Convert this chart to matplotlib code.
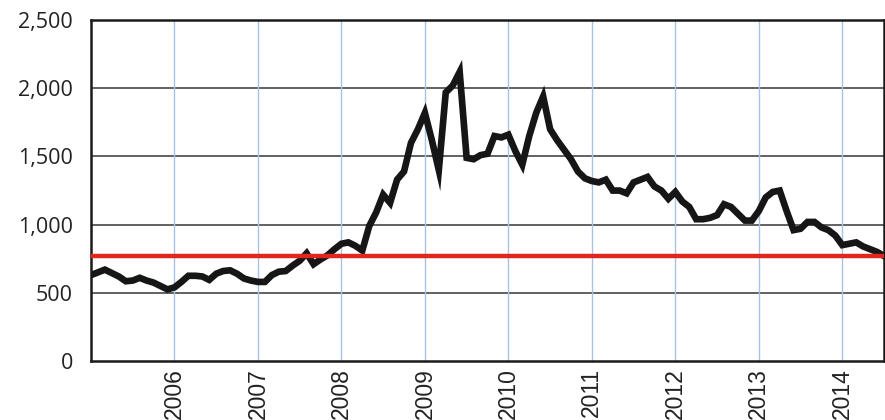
import numpy as np
import matplotlib
matplotlib.use('Agg')
import matplotlib.pyplot as plt
from matplotlib.ticker import StrMethodFormatter

# monthly values, Jan 2005 .. Jul 2014
values = [
    630, 650, 670, 645, 620, 585, 590, 610, 590, 575, 550, 525,       # 2005
    540, 580, 625, 625, 620, 595, 640, 660, 665, 640, 605, 590,       # 2006
    580, 580, 630, 655, 660, 700, 735, 790, 710, 745, 775, 820,       # 2007
    860, 870, 845, 810, 990, 1090, 1220, 1160, 1330, 1390, 1600, 1700, # 2008
    1820, 1620, 1400, 1970, 2020, 2120, 1490, 1480, 1510, 1520, 1650, 1640,  # 2009
    1660, 1540, 1440, 1650, 1820, 1940, 1700, 1620, 1550, 1480, 1390, 1340,  # 2010
    1320, 1310, 1330, 1250, 1250, 1230, 1310, 1330, 1350, 1280, 1250, 1190,  # 2011
    1240, 1170, 1130, 1040, 1040, 1050, 1070, 1150, 1130, 1080, 1030, 1030,  # 2012
    1100, 1200, 1240, 1250, 1100, 960, 970, 1020, 1020, 980, 960, 920,       # 2013
    850, 860, 870, 840, 820, 800, 770,                                       # 2014
]
start_year = 2005
threshold = 770
years = list(range(2006, 2015))
y_ticks = [0, 500, 1000, 1500, 2000, 2500]

t = start_year + np.arange(len(values)) / 12.0

fig = plt.figure(figsize=(8.85, 4.2), dpi=100)
ax = fig.add_axes([0.1028, 0.1405, 0.8961, 0.8115])

# grid
for yt in y_ticks[1:-1]:
    ax.axhline(yt, color='#555555', linewidth=1.3, zorder=1)
for yr in years:
    ax.axvline(yr, color='#a8c2e6', linewidth=1.0, zorder=1)

ax.plot(t, values, color='#161616', linewidth=4.8, solid_joinstyle='miter', zorder=3)
ax.axhline(threshold, color='#e3261c', linewidth=3.2, zorder=4)

ax.set_xlim(start_year, start_year + (len(values) - 1) / 12.0)
ax.set_ylim(0, 2500)
ax.set_xticks(years)
ax.set_xticklabels([str(y) for y in years], rotation=90, va='top', ha='center',
                   fontfamily='Liberation Sans', fontsize=16.5, color='#222222')
ax.set_yticks(y_ticks)
ax.yaxis.set_major_formatter(StrMethodFormatter('{x:,.0f}'))
for lbl in ax.get_yticklabels():
    lbl.set_fontfamily('Open Sans')
    lbl.set_fontsize(15.5)
    lbl.set_color('#222222')
ax.tick_params(axis='x', length=0, pad=5)
ax.tick_params(axis='y', length=0, pad=13)

for s in ax.spines.values():
    s.set_linewidth(1.8)
    s.set_color('#1a1a1a')

fig.savefig('out.png', dpi=100)
